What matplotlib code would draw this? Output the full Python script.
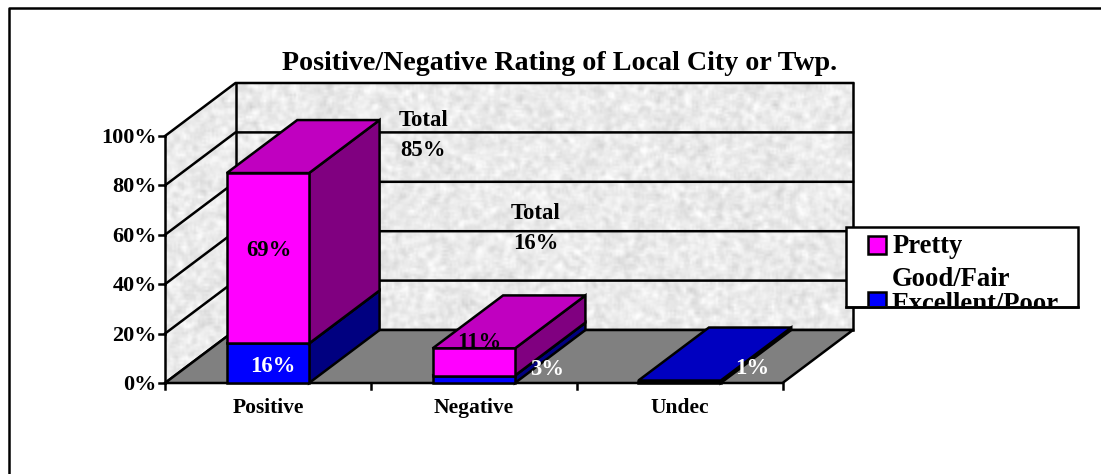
import numpy as np
import matplotlib
matplotlib.use("Agg")
import matplotlib.pyplot as plt
from matplotlib.patches import Polygon, Rectangle

categories = ["Positive", "Negative", "Undec"]
excellent_poor = [16, 3, 1]
pretty_good_fair = [69, 11, 0]
y_ticks = [0, 20, 40, 60, 80, 100]
totals = [85, 16]
title = "Positive/Negative Rating of Local City or Twp."
legend_names = ["Pretty\nGood/Fair", "Excellent/Poor"]

plt.rcParams["font.family"] = ["Liberation Serif", "DejaVu Serif"]
plt.rcParams["font.weight"] = "bold"

LW = 1.8
# plot box in pixels
X0, X1 = 165.0, 782.5
Y0, Y100 = 383.0, 136.0
DX, DY = 70.5, -53.0


def px(cat, val, depth=0.0):
    # cat in category units, val in percent, depth 0 front .. 1 back
    x = X0 + (X1 - X0) * cat / len(categories) + DX * depth
    y = Y0 + (Y100 - Y0) * val / 100 + DY * depth
    return x, y


def face(ax, pts, color, z):
    ax.add_patch(Polygon(pts, closed=True, facecolor=color, edgecolor="black",
                         linewidth=LW, joinstyle="miter", zorder=z))


def box(ax, cat, low, high, front, top, side, z):
    a, b = cat + 0.3, cat + 0.7
    face(ax, [px(b, low), px(b, low, 1), px(b, high, 1), px(b, high)], side, z)
    face(ax, [px(a, high), px(b, high), px(b, high, 1), px(a, high, 1)], top, z)
    face(ax, [px(a, low), px(b, low), px(b, high), px(a, high)], front, z + 0.1)


def speckle(shape, seed):
    # blotchy granite wall, only a background texture
    rng = np.random.default_rng(seed)
    n = rng.normal(0, 1, shape)
    kernel = np.ones(3) / 3
    n = np.apply_along_axis(lambda r: np.convolve(r, kernel, mode="same"), 0, n)
    n = np.apply_along_axis(lambda r: np.convolve(r, kernel, mode="same"), 1, n)
    n = n / n.std()
    return np.clip(0.92 + 0.027 * n, 0.74, 1.0)


fig = plt.figure(figsize=(11.01, 4.74), dpi=100)
ax = fig.add_axes([0, 0, 1, 1])
ax.axis("off")

# page frame, only top and left
ax.plot([9, 9, 1101], [474, 8, 8], color="black", lw=LW, zorder=1)

# walls
left_wall = [px(0, 0), px(0, 100), px(0, 100, 1), px(0, 0, 1)]
back_wall = [px(0, 0, 1), px(0, 100, 1), px(3, 100, 1), px(3, 0, 1)]
tex = speckle((155, 350), 7)
for pts in (left_wall, back_wall):
    patch = Polygon(pts, closed=True, facecolor="none", edgecolor="none")
    ax.add_patch(patch)
    im = ax.imshow(tex, cmap="gray", vmin=0, vmax=1, extent=[160, 860, 390, 80],
                   interpolation="bilinear", aspect="auto", zorder=1.5)
    im.set_clip_path(patch)

# grid lines on both walls
for v in y_ticks:
    ax.plot(*zip(px(0, v), px(0, v, 1), px(3, v, 1)), color="black", lw=LW, zorder=2)
ax.plot(*zip(px(0, 0), px(0, 100)), color="black", lw=LW, zorder=2)
ax.plot(*zip(px(0, 0, 1), px(0, 100, 1)), color="black", lw=LW, zorder=2)
ax.plot(*zip(px(3, 0, 1), px(3, 100, 1)), color="black", lw=LW, zorder=2)

# floor
face(ax, [px(0, 0), px(3, 0), px(3, 0, 1), px(0, 0, 1)], "#808080", 3)

# ticks and axis labels
for v in y_ticks:
    x, y = px(0, v)
    ax.plot([x - 6, x], [y, y], color="black", lw=LW, zorder=4)
    ax.text(x - 8, y + 2, f"{v}%", ha="right", va="center", fontsize=16, zorder=6)
for i in range(len(categories) + 1):
    x, y = px(i, 0)
    ax.plot([x, x], [y, y + 6], color="black", lw=LW, zorder=4)
for i, name in enumerate(categories):
    x, y = px(i + 0.5, 0)
    ax.text(x, y + 25, name, ha="center", va="center", fontsize=15.5, zorder=6)

# bars
for i in range(len(categories)):
    z = 5 + i
    box(ax, i, 0, excellent_poor[i], "#0000FF", "#0000C0", "#000080", z)
    if pretty_good_fair[i] > 0:
        box(ax, i, excellent_poor[i], excellent_poor[i] + pretty_good_fair[i],
            "#FF00FF", "#C000C0", "#800080", z + 0.2)

# data labels, placed by hand like the source
LABEL = 16.4
ax.text(269, 250.5, f"{pretty_good_fair[0]}%", ha="center", va="center", fontsize=LABEL, zorder=9)
ax.text(273, 366.5, f"{excellent_poor[0]}%", ha="center", va="center", fontsize=LABEL, color="white", zorder=9)
# the 11% runs behind the front of its bar
ax.text(479, 342.5, f"{pretty_good_fair[1]}%", ha="center", va="center", fontsize=LABEL, zorder=6.25)
ax.text(547, 369.5, f"{excellent_poor[1]}%", ha="center", va="center", fontsize=LABEL, color="white", zorder=9)
ax.text(752, 368.5, f"{excellent_poor[2]}%", ha="center", va="center", fontsize=LABEL, color="white", zorder=9)

ax.text(399, 120.5, "Total", ha="left", va="center", fontsize=LABEL, zorder=4)
ax.text(400, 150.5, f"{totals[0]}%", ha="left", va="center", fontsize=LABEL, zorder=4)
ax.text(511, 213.5, "Total", ha="left", va="center", fontsize=LABEL, zorder=4)
ax.text(513, 243.5, f"{totals[1]}%", ha="left", va="center", fontsize=LABEL, zorder=4)

ax.text(560, 63, title, ha="center", va="center", fontsize=20.2, zorder=6)

# legend, its last row is cut off by the box in the source
frame = Rectangle((845.5, 227), 232.5, 80, facecolor="white", edgecolor="black", lw=LW, zorder=10)
ax.add_patch(frame)
clip = Rectangle((845.5, 227), 232.5, 79, transform=ax.transData)
s1 = Rectangle((868, 236), 18, 18, facecolor="#FF00FF", edgecolor="black", lw=LW, zorder=11)
s2 = Rectangle((868, 292), 18, 20, facecolor="#0000FF", edgecolor="black", lw=LW, zorder=11)
ax.add_patch(s1)
ax.add_patch(s2)
s2.set_clip_path(clip)
first, second = legend_names[0].split("\n")
ax.text(893, 253, first, ha="left", va="baseline", fontsize=19.2, zorder=11)
ax.text(892, 286, second, ha="left", va="baseline", fontsize=19.2, zorder=11)
t = ax.text(892, 311, legend_names[1], ha="left", va="baseline", fontsize=19.2, zorder=11)
t.set_clip_on(True)
t.set_clip_path(clip)
ax.plot([845.5, 1078], [307, 307], color="black", lw=LW, zorder=12)

ax.set_xlim(0, 1101)
ax.set_ylim(474, 0)
fig.savefig("out.png", dpi=100)
